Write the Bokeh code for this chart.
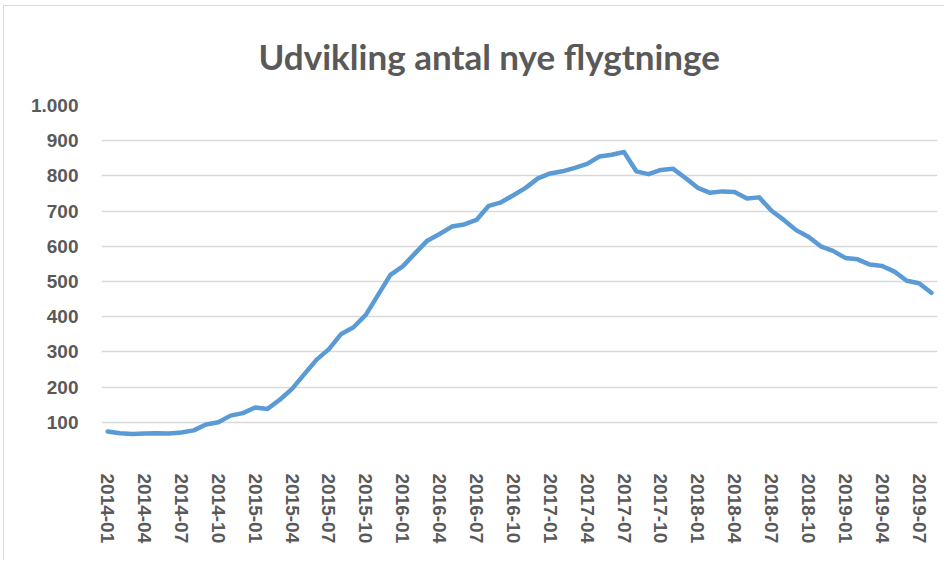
from bokeh.plotting import figure
from bokeh.models import FixedTicker, ColumnDataSource
from bokeh.embed import file_html
from bokeh.resources import INLINE

# Monthly categories 2014-01 .. 2019-08
months = [f"{y}-{m:02d}" for y in range(2014, 2020) for m in range(1, 13)][:68]

values = [74, 69, 67, 68, 69, 68, 71, 77, 94, 100, 119, 126,
          142, 138, 164, 195, 237, 278, 308, 351, 370, 405, 462, 519,
          543, 580, 616, 635, 656, 662, 675, 715, 725, 745, 766, 793,
          807, 813, 823, 834, 855, 860, 868, 813, 805, 817, 820, 794,
          766, 752, 756, 754, 736, 739, 701, 675, 646, 627, 600, 587,
          567, 563, 548, 544, 528, 502, 495, 468]

y_ticks = [0, 100, 200, 300, 400, 500, 600, 700, 800, 900, 1000]
y_labels = ["", "100", "200", "300", "400", "500", "600", "700", "800", "900", "1.000"]

title = "Udvikling antal nye flygtninge"

x_idx = list(range(len(months)))
x_ticks = x_idx[::3]

src = ColumnDataSource(dict(x=x_idx, y=values, m=months))

p = figure(width=944, height=560, output_backend="svg", toolbar_location=None,
           x_range=(-0.5, len(months) - 0.5), y_range=(0, 1000),
           min_border_left=101, min_border_right=7, min_border_top=105, min_border_bottom=103,
           styles={"background-color": "white",
                   "box-shadow": "inset 3px 5px 0 0 white, inset 4px 6px 0 0 #d9d9d9"})
p.outline_line_color = None
p.background_fill_color = "white"
p.border_fill_color = None

p.title.text = title
p.title.align = "left"
p.title.text_font = "Lato"
p.title.text_font_style = "bold"
p.title.text_font_size = "35px"
p.title.text_color = "#595959"
p.title.offset = 157
p.title.standoff = 58

p.line("x", "y", source=src, line_color="#5b9bd5", line_width=4.5,
       line_join="round", line_cap="round")

p.yaxis.ticker = FixedTicker(ticks=y_ticks)
p.yaxis.major_label_overrides = {t: l for t, l in zip(y_ticks, y_labels)}
p.yaxis.axis_line_color = None
p.yaxis.major_tick_line_color = None
p.yaxis.minor_tick_line_color = None
p.yaxis.major_tick_out = 0
p.yaxis.major_tick_in = 0
p.yaxis.major_label_text_font = "Liberation Sans"
p.yaxis.major_label_text_font_style = "bold"
p.yaxis.major_label_text_font_size = "19px"
p.yaxis.major_label_text_color = "#595959"
p.yaxis.major_label_standoff = 23

p.xaxis.ticker = FixedTicker(ticks=x_ticks)
p.xaxis.major_label_overrides = {i: months[i] for i in x_ticks}
p.xaxis.major_label_orientation = "vertical"
p.xaxis.axis_line_color = None
p.xaxis.major_tick_line_color = None
p.xaxis.minor_tick_line_color = None
p.xaxis.major_tick_out = 0
p.xaxis.major_tick_in = 0
p.xaxis.major_label_text_font = "Liberation Sans"
p.xaxis.major_label_text_font_style = "bold"
p.xaxis.major_label_text_font_size = "19px"
p.xaxis.major_label_text_color = "#595959"
p.xaxis.major_label_standoff = 16

p.xgrid.grid_line_color = None
p.ygrid.ticker = FixedTicker(ticks=y_ticks)
p.ygrid.grid_line_color = "#d9d9d9"
p.ygrid.grid_line_width = 1.5

open("out.html", "w").write(file_html(p, INLINE))
